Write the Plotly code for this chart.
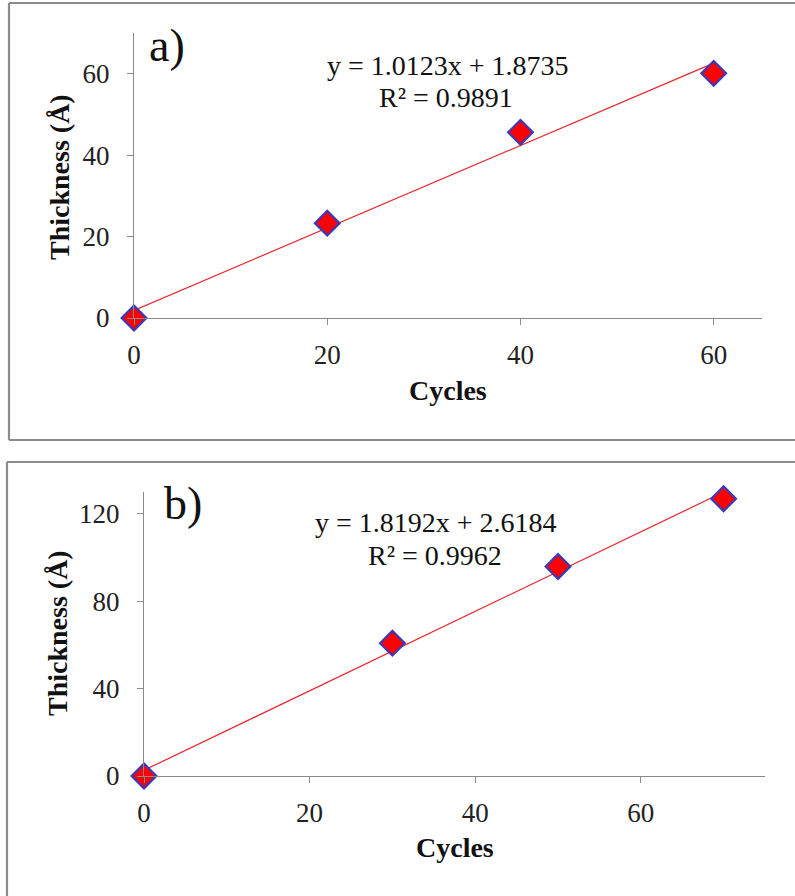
import plotly.graph_objects as go

# ---------------- data ----------------
cycles_a = [0, 20, 40, 60]
thick_a = [0.0, 23.3, 45.6, 60.1]
slope_a, intercept_a, r2_a = 1.0123, 1.8735, 0.9891

cycles_b = [0, 30, 50, 70]
thick_b = [0.0, 60.8, 95.9, 126.9]
slope_b, intercept_b, r2_b = 1.8192, 2.6184, 0.9962

xticks_a = [0, 20, 40, 60]
yticks_a = [0, 20, 40, 60]
xticks_b = [0, 20, 40, 60]
yticks_b = [0, 40, 80, 120]

W, H = 795, 896


def px(x):
    return x / W


def py(y):
    return 1 - y / H


FONT = "Liberation Serif, Times New Roman, serif"
AXIS_COLOR = "#8a8a8a"
MARKER = dict(symbol="diamond", size=19, color="#ff0000",
              line=dict(color="#3a3ab8", width=2.2))

fig = go.Figure()


def fit_line(xs, m, b):
    x0, x1 = min(xs), max(xs)
    return [x0, x1], [m * x0 + b, m * x1 + b]


def panel(xs, ys, m, b, xa, ya):
    lx, ly = fit_line(xs, m, b)
    fig.add_trace(go.Scatter(x=lx, y=ly, mode="lines", line=dict(color="#e8262b", width=1.2),
                             xaxis=xa, yaxis=ya, showlegend=False, hoverinfo="skip"))
    fig.add_trace(go.Scatter(x=xs, y=ys, mode="markers", marker=MARKER,
                             xaxis=xa, yaxis=ya, showlegend=False, cliponaxis=False))


panel(cycles_a, thick_a, slope_a, intercept_a, "x", "y")
panel(cycles_b, thick_b, slope_b, intercept_b, "x2", "y2")

axis_common = dict(showline=True, linecolor=AXIS_COLOR, linewidth=1.3, showgrid=False,
                   zeroline=False, ticks="outside", ticklen=6, tickcolor=AXIS_COLOR,
                   automargin=False,
                   tickfont=dict(family=FONT, size=27, color="#222222"))

fig.update_layout(
    width=W, height=H,
    margin=dict(l=0, r=0, t=0, b=0, autoexpand=False),
    paper_bgcolor="white", plot_bgcolor="white",
    xaxis=dict(domain=[px(134), px(762)], range=[0, 65], tickvals=xticks_a,
               anchor="y", ticklabelstandoff=6, **axis_common),
    yaxis=dict(domain=[py(318), py(33)], range=[0, 70], tickvals=yticks_a,
               anchor="x", ticklabelstandoff=12, **axis_common),
    xaxis2=dict(domain=[px(144), px(765)], range=[0, 75], tickvals=xticks_b,
                anchor="y2", ticklabelstandoff=6, **axis_common),
    yaxis2=dict(domain=[py(776), py(492)], range=[0, 130], tickvals=yticks_b,
                anchor="x2", ticklabelstandoff=12, **axis_common),
)

FRAME = dict(color="#8c8c8c", width=2.2)


def seg(x0, y0, x1, y1):
    fig.add_shape(type="line", xref="paper", yref="paper", x0=px(x0), y0=py(y0),
                  x1=px(x1), y1=py(y1), line=FRAME)


# panel a frame (top, left, bottom)
seg(9, 3, W, 3)
seg(9, 3, 9, 440)
seg(9, 440, W, 440)
# panel b frame (top, left)
seg(7, 462, W, 462)
seg(7, 462, 7, H)


def ann(text, x, y, size, bold=False, angle=0):
    fig.add_annotation(text=f"<b>{text}</b>" if bold else text, xref="paper", yref="paper",
                       x=px(x), y=py(y), xanchor="center", yanchor="middle",
                       showarrow=False, textangle=angle,
                       font=dict(family=FONT, size=size, color="#111111"))


# panel a texts
ann("a)", 167, 45, 46)
ann(f"y = {slope_a:.4f}x + {intercept_a:.4f}", 448, 65, 28)
ann(f"R² = {r2_a:.4f}", 446, 97, 28)
ann("Cycles", 448, 390, 28, bold=True)
ann("Thickness (Å)", 60, 177, 28, bold=True, angle=-90)

# panel b texts
ann("b)", 183, 503, 46)
ann(f"y = {slope_b:.4f}x + {intercept_b:.4f}", 436, 522, 28)
ann(f"R² = {r2_b:.4f}", 435, 555, 28)
ann("Cycles", 455, 847, 28, bold=True)
ann("Thickness (Å)", 57, 633, 28, bold=True, angle=-90)

fig.write_html("out.html", config={"displayModeBar": False},
               post_script="document.body.style.margin='0';document.body.style.overflow='hidden';")
